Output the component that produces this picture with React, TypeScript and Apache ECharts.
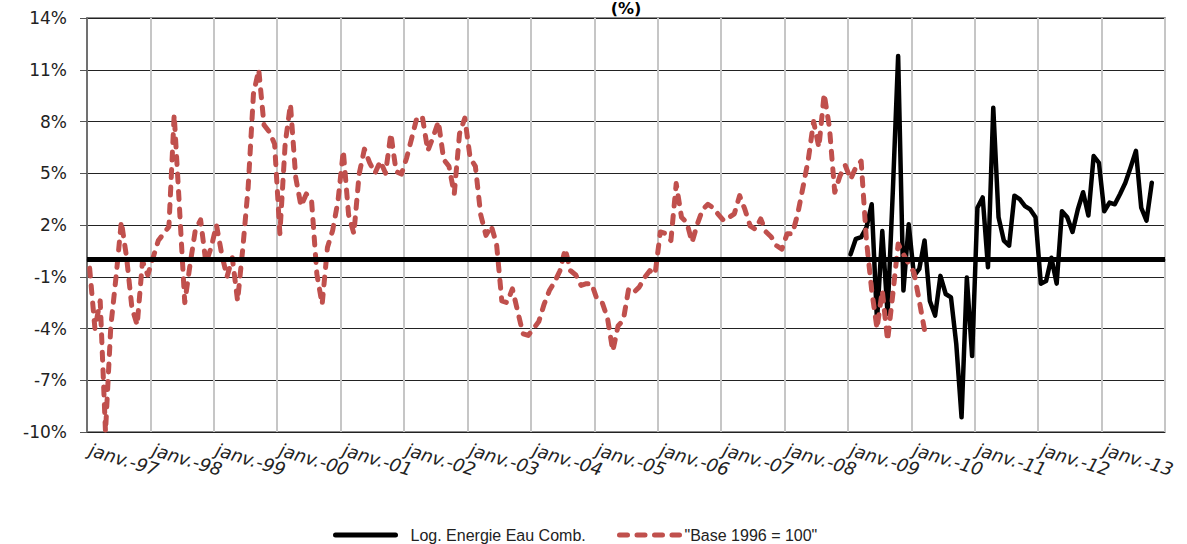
import React, { useEffect, useRef } from 'react';
import * as echarts from 'echarts';

const monthNames = ['janv.', 'févr.', 'mars', 'avr.', 'mai', 'juin', 'juil.', 'août', 'sept.', 'oct.', 'nov.', 'déc.'];
const years = ['97', '98', '99', '00', '01', '02', '03', '04', '05', '06', '07', '08', '09', '10', '11', '12', '13'];
const categories = years.flatMap((y) => monthNames.map((m) => `${m}-${y}`));

const titleText = '(%)';

const baseName = '"Base 1996 = 100"';
const baseStart = 'janv.-97';
const baseValues = [
  -0.5, -4.0, -2.4, -10.0, -3.9, -1.0, 2.2, 0.1, -2.8, -3.8, -0.1, -0.9,
  0.1, 1.1, 1.5, 1.9, 8.4, 3.0, -2.5, -0.3, 1.7, 2.3, -0.2, 0.7,
  2.0, 0.3, -1.0, 0.1, -2.4, 0.7, 4.2, 9.6, 11.0, 7.8, 7.4, 6.7,
  1.5, 6.7, 9.0, 4.75, 3.1, 3.8, 3.4, -0.85, -2.6, 0.7, 1.7, 3.4,
  6.3, 2.6, 1.5, 4.95, 6.4, 5.6, 5.0, 5.7, 5.0, 7.3, 5.1, 4.95,
  5.9, 7.1, 8.3, 8.2, 6.3, 7.1, 8.0, 5.8, 5.4, 3.8, 7.3, 8.2,
  5.9, 5.4, 2.6, 1.4, 1.95, 0.9, -2.4, -2.5, -1.7, -3.0, -4.3, -4.4,
  -4.0, -3.6, -2.6, -1.8, -1.3, -0.65, 0.6, -0.65, -0.9, -1.5, -1.4, -1.4,
  -2.3, -2.5, -3.4, -5.3, -3.85, -3.5, -1.7, -1.9, -1.6, -1.05, -0.65, -0.85,
  1.6, 1.5, 1.1, 4.4, 2.45, 2.15, 1.0, 2.05, 2.9, 3.2, 3.0, 2.6,
  2.25, 2.45, 2.65, 3.7, 2.9, 1.95, 1.75, 2.35, 1.6, 1.3, 0.8, 0.6,
  1.5, 1.5, 2.65, 4.2, 5.8, 8.0, 6.5, 9.6, 7.65, 3.9, 4.85, 5.45,
  4.65, 5.35, 5.7, 1.1, -1.8, -4.0, -1.8, -4.7, -2.0, 0.9, 0.3, -0.25,
  -0.75, -2.4, -4.1,
];

const logName = 'Log. Energie Eau Comb.';
const logStart = 'janv.-09';
const logValues = [
  0.3, 1.2, 1.3, 1.85, 3.2, -3.55, 1.65, -3.15, 4.0, 11.8, -1.8, 2.05,
  -0.95, -0.55, 1.1, -2.4, -3.25, -0.95, -2.0, -2.2, -4.9, -9.15, -1.05, -5.6,
  3.0, 3.6, -0.45, 8.8, 2.45, 1.1, 0.8, 3.7, 3.5, 3.1, 2.9, 2.45,
  -1.4, -1.25, 0.1, -1.4, 2.8, 2.45, 1.6, 2.9, 3.9, 2.55, 6.0, 5.6,
  2.8, 3.3, 3.2, 3.8, 4.45, 5.35, 6.3, 3.0, 2.25, 4.45,
];

const yMin = -10;
const yMax = 14;
const yStep = 3;
const referenceLevel = 0;

function alignToCategories(values: number[], start: string): (number | null)[] {
  const offset = categories.indexOf(start);
  return categories.map((_, i) => {
    const k = i - offset;
    return k >= 0 && k < values.length ? values[k] : null;
  });
}

const FONT = '"Liberation Sans", Arial, Helvetica, sans-serif';
const WIDE = '"DejaVu Sans", Verdana, sans-serif';

export default function App() {
  const ref = useRef<HTMLDivElement>(null);

  useEffect(() => {
    if (!ref.current) return;
    const chart = echarts.init(ref.current, undefined, { renderer: 'svg' });
    chart.setOption({
      animation: false,
      backgroundColor: '#ffffff',
      textStyle: { fontFamily: FONT },
      graphic: [
        {
          type: 'text',
          x: 626,
          y: 0,
          style: {
            text: titleText,
            textAlign: 'center',
            textVerticalAlign: 'top',
            font: `bold 16px ${WIDE}`,
            fill: '#000',
          },
        },
      ],
      legend: [
        {
          data: [logName],
          left: 333,
          top: 527,
          padding: 0,
          itemWidth: 60,
          itemHeight: 16,
          itemStyle: { opacity: 0 },
          lineStyle: { width: 5, cap: 'round' },
          textStyle: { fontSize: 16, color: '#222', fontFamily: FONT, padding: [0, 0, 0, 10] },
        },
        {
          data: [baseName],
          left: 617,
          top: 527,
          padding: 0,
          itemWidth: 60,
          itemHeight: 16,
          itemStyle: { opacity: 0 },
          lineStyle: { width: 5, cap: 'round' },
          textStyle: { fontSize: 16, color: '#222', fontFamily: FONT },
        },
      ],
      grid: {
        left: 87,
        right: 22,
        top: 18,
        bottom: 112,
        show: true,
        borderColor: '#666',
        borderWidth: 1.5,
        containLabel: false,
      },
      xAxis: {
        type: 'category',
        data: categories,
        boundaryGap: true,
        axisLine: { show: true, lineStyle: { color: '#555', width: 1.5 } },
        axisTick: { show: false },
        axisLabel: {
          interval: 11,
          rotate: -17,
          margin: 17,
          fontSize: 18,
          fontStyle: 'italic',
          color: '#222',
          fontFamily: WIDE,
        },
        splitLine: { show: true, interval: 11, lineStyle: { color: '#c6c6c6', width: 2 } },
      },
      yAxis: {
        type: 'value',
        min: yMin,
        max: yMax,
        interval: yStep,
        axisLine: { show: true, lineStyle: { color: '#555', width: 1.5 } },
        axisTick: { show: true, length: 7, lineStyle: { color: '#555' } },
        axisLabel: {
          formatter: '{value}%',
          fontSize: 17,
          color: '#222',
          margin: 20,
          fontFamily: WIDE,
        },
        splitLine: { show: true, lineStyle: { color: '#222', width: 1 } },
      },
      series: [
        {
          name: '__ref',
          type: 'line',
          data: [],
          z: 1,
          silent: true,
          markLine: {
            silent: true,
            symbol: ['none', 'none'],
            label: { show: false },
            lineStyle: { color: '#000', width: 5, type: 'solid' },
            data: [{ yAxis: referenceLevel }],
          },
        },
        {
          name: logName,
          type: 'line',
          data: alignToCategories(logValues, logStart),
          symbol: 'none',
          connectNulls: false,
          z: 3,
          lineStyle: { color: '#000', width: 4.5, join: 'round', cap: 'round' },
          itemStyle: { color: '#000' },
        },
        {
          name: baseName,
          type: 'line',
          data: alignToCategories(baseValues, baseStart),
          symbol: 'none',
          z: 4,
          lineStyle: { color: '#C0504D', width: 5, type: [8, 9.5], cap: 'round', join: 'round' },
          itemStyle: { color: '#C0504D' },
        },
      ],
    });
    return () => chart.dispose();
  }, []);

  return (
    <div
      ref={ref}
      style={{ position: 'fixed', left: 0, top: 0, width: 1187, height: 544, background: '#fff' }}
    />
  );
}
